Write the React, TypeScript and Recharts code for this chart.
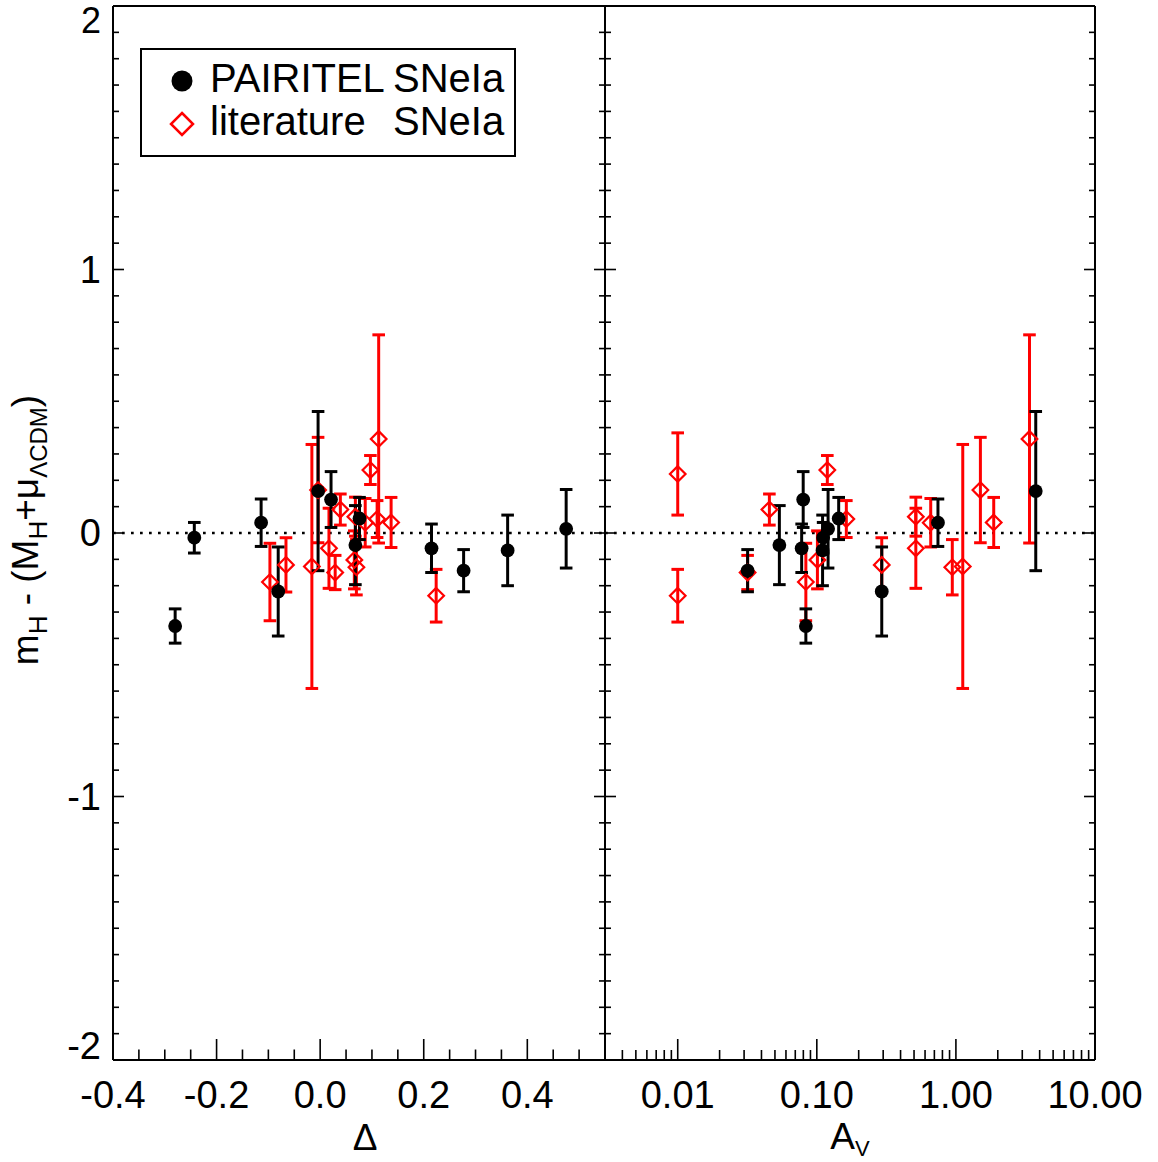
import React from 'react';
import { ScatterChart, Scatter, XAxis, YAxis, ErrorBar, ReferenceLine, Legend } from 'recharts';

// ---------------- data ----------------
// PAIRITEL SNe Ia (black filled circles)
const pairitelDelta = [-0.280, -0.243, -0.114, -0.081, -0.004, 0.021, 0.068, 0.076, 0.215, 0.277, 0.362, 0.475];
const pairitelAv = [0.0834, 0.111, 0.743, 0.293, 3.75, 0.0798, 0.0538, 0.1436, 0.0778, 0.0318, 0.110, 0.1205];
const pairitelResid = [-0.353, -0.018, 0.039, -0.222, 0.159, 0.127, -0.046, 0.055, -0.058, -0.143, -0.066, 0.016];
const pairitelErr = [0.065, 0.058, 0.090, 0.169, 0.302, 0.106, 0.150, 0.080, 0.092, 0.080, 0.134, 0.149];

// literature SNe Ia (red open diamonds); null = no Δ point shown
const litDelta: (number | null)[] = [null, 0.224, 0.029, 0.039, -0.097, 0.066, 0.097, 0.110, -0.066, 0.017, 0.068, 0.087, 0.070, -0.016, -0.004, 0.137, 0.113];
const litAv = [0.0100, 0.0100, 0.0318, 0.0456, 0.0834, 0.101, 0.119, 0.163, 0.293, 0.515, 0.515, 0.659, 0.942, 1.12, 1.50, 1.87, 3.38];
const litResid = [0.224, -0.238, -0.150, 0.089, -0.186, -0.102, 0.239, 0.053, -0.121, -0.058, 0.062, 0.039, -0.130, -0.127, 0.163, 0.040, 0.357];
const litErr = [0.156, 0.100, 0.065, 0.059, 0.147, 0.110, 0.055, 0.070, 0.103, 0.152, 0.074, 0.092, 0.105, 0.463, 0.200, 0.095, 0.395];

// axes
const deltaDomain = [-0.4, 0.55];
const deltaMajor = [-0.4, -0.2, 0.0, 0.2, 0.4];
const deltaLabels = ['-0.4', '-0.2', '0.0', '0.2', '0.4'];
const avDomain = [0.003, 10];
const avMajor = [0.01, 0.1, 1, 10];
const avLabels = ['0.01', '0.10', '1.00', '10.00'];
const residDomain = [-2, 2];
const residMajor = [-2, -1, 0, 1, 2];
const residLabels = ['-2', '-1', '0', '1', '2'];

// minor ticks
const deltaTicks: number[] = [];
for (let k = -8; k <= 11; k++) deltaTicks.push(Math.round(k * 5) / 100);
const residTicks: number[] = [];
for (let k = -20; k <= 20; k++) residTicks.push(k / 10);
const avTicks: number[] = [];
[0.001, 0.01, 0.1, 1].forEach((dec) => {
  for (let m = 1; m <= 9; m++) {
    const v = parseFloat((m * dec).toPrecision(6));
    if (v >= 0.003 - 1e-12 && v <= 10 + 1e-9) avTicks.push(v);
  }
});
avTicks.push(10);

// ---------------- helpers ----------------
const FONT = 'Liberation Sans, Arial, Helvetica, sans-serif';
const RED = '#f00';

const majorIndex = (v: number, majors: number[]) =>
  majors.findIndex((m) => Math.abs(m - v) <= 1e-6 * Math.max(Math.abs(m), 1e-3));

type Side = 'bottom' | 'top' | 'left' | 'right';

const makeTick = (side: Side, majors: number[], labels: string[] | null, majorLen: number, minorLen: number) =>
  (props: any) => {
    const { x, y, payload } = props;
    const v = Number(payload?.value);
    const idx = majorIndex(v, majors);
    const len = idx >= 0 ? majorLen : minorLen;
    let x2 = x, y2 = y;
    if (side === 'bottom') y2 = y - len;
    if (side === 'top') y2 = y + len;
    if (side === 'left') x2 = x + len;
    if (side === 'right') x2 = x - len;
    let label: React.ReactNode = null;
    if (labels && idx >= 0) {
      if (side === 'bottom') {
        label = (
          <text x={x} y={y + 48} textAnchor="middle" fontFamily={FONT} fontSize={38} fill="#000" stroke="none">
            {labels[idx]}
          </text>
        );
      } else if (side === 'left') {
        let by = y + 13;
        let fs = 38;
        if (idx === majors.length - 1) {
          by = y + 27;
          fs = 36;
        }
        if (idx === 0) by = y - 1;
        label = (
          <text x={x - 12} y={by} textAnchor="end" fontFamily={FONT} fontSize={fs} fill="#000" stroke="none">
            {labels[idx]}
          </text>
        );
      }
    }
    return (
      <g>
        <line x1={x} y1={y} x2={x2} y2={y2} stroke="#000" strokeWidth={1.6} />
        {label}
      </g>
    );
  };

const Dot = (p: any) => <circle cx={p.cx} cy={p.cy} r={6.9} fill="#000" />;
const Diamond = (p: any) => {
  const s = 7.8;
  return (
    <polygon
      points={`${p.cx},${p.cy - s} ${p.cx + s},${p.cy} ${p.cx},${p.cy + s} ${p.cx - s},${p.cy}`}
      fill="none"
      stroke={RED}
      strokeWidth={2.2}
    />
  );
};

const LegendBox = () => (
  <svg width={376} height={110} style={{ display: 'block' }}>
    <rect x={1} y={1} width={374} height={107} fill="#fff" stroke="#000" strokeWidth={2} />
    <circle cx={42} cy={33} r={10.5} fill="#000" />
    <text x={70} y={44} fontFamily={FONT} fontSize={40} fill="#000">PAIRITEL</text>
    <text x={253} y={44} fontFamily={FONT} fontSize={40} fill="#000">SNeIa</text>
    <polygon points="42,65 53,76 42,87 31,76" fill="none" stroke={RED} strokeWidth={2.5} />
    <text x={70} y={87} fontFamily={FONT} fontSize={40} fill="#000">literature</text>
    <text x={253} y={87} fontFamily={FONT} fontSize={40} fill="#000">SNeIa</text>
  </svg>
);

const axisLine = { stroke: '#000', strokeWidth: 2 };

const pairitelLeft = pairitelDelta.map((d, i) => ({ x: d, y: pairitelResid[i], err: pairitelErr[i] }));
const litLeft = litDelta
  .map((d, i) => ({ x: d, y: litResid[i], err: litErr[i] }))
  .filter((p) => p.x !== null);
const pairitelRight = pairitelAv.map((a, i) => ({ x: a, y: pairitelResid[i], err: pairitelErr[i] }));
const litRight = litAv.map((a, i) => ({ x: a, y: litResid[i], err: litErr[i] }));

const W = 1158;
const H = 1162;
const TOP = 6;
const BOTTOM = 1060;
const LEFT = 113;
const MID = 605;
const RIGHT = 1095;

const YTitle = (p: any) => {
  const vb = p.viewBox || { x: 112, y: 6, width: 1, height: 1054 };
  const cx = vb.x + vb.width - 75;
  const cy = vb.y + vb.height / 2 - 3;
  return (
    <text
      x={cx}
      y={cy}
      transform={`rotate(-90, ${cx}, ${cy})`}
      textAnchor="middle"
      fontFamily={FONT}
      fontSize={37}
      fill="#000"
    >
      m<tspan fontSize={26} dy={9}>H</tspan>
      <tspan dy={-9}> - (M</tspan>
      <tspan fontSize={26} dy={9}>H</tspan>
      <tspan dy={-9}>+μ</tspan>
      <tspan fontSize={24} dy={9}>ΛCDM</tspan>
      <tspan dy={-9}>)</tspan>
    </text>
  );
};

const DeltaTitle = (p: any) => {
  const vb = p.viewBox || { x: 113, y: 1060, width: 492 };
  return (
    <text x={vb.x + vb.width / 2 + 6} y={vb.y + 90} textAnchor="middle" fontFamily={FONT} fontSize={37} fill="#000">
      Δ
    </text>
  );
};

const AvTitle = (p: any) => {
  const vb = p.viewBox || { x: 605, y: 1060, width: 490 };
  return (
    <text x={vb.x + vb.width / 2} y={vb.y + 89} textAnchor="middle" fontFamily={FONT} fontSize={37} fill="#000">
      A<tspan fontSize={22} dy={7}>V</tspan>
    </text>
  );
};

const commonX = {
  type: 'number' as const,
  allowDataOverflow: true,
  interval: 0 as const,
  height: 1,
  tickSize: 0,
  tickMargin: 0,
  tickLine: false,
  axisLine,
};
const commonY = {
  type: 'number' as const,
  allowDataOverflow: true,
  interval: 0 as const,
  width: 1,
  tickSize: 0,
  tickMargin: 0,
  tickLine: false,
  axisLine,
  domain: residDomain,
  ticks: residTicks,
};

export default function App() {
  return (
    <div style={{ position: 'absolute', left: 0, top: 0, width: W, height: H, background: '#fff' }}>
      {/* Left panel: vs Δ */}
      <div style={{ position: 'absolute', left: 0, top: 0 }}>
        <ScatterChart
          width={W}
          height={H}
          margin={{ top: TOP - 1, right: W - MID - 1, bottom: H - BOTTOM - 1, left: LEFT - 1 }}
        >
          <XAxis
            {...commonX}
            xAxisId="b"
            dataKey="x"
            orientation="bottom"
            domain={deltaDomain}
            ticks={deltaTicks}
            tick={makeTick('bottom', deltaMajor, deltaLabels, 21, 10.5)}
            label={DeltaTitle}
          />
          <XAxis
            {...commonX}
            xAxisId="t"
            orientation="top"
            domain={deltaDomain}
            ticks={deltaTicks}
            tick={makeTick('top', deltaMajor, null, 21, 10.5)}
          />
          <YAxis
            {...commonY}
            yAxisId="l"
            dataKey="y"
            orientation="left"
            tick={makeTick('left', residMajor, residLabels, 11, 6)}
            label={YTitle}
          />
          <YAxis
            {...commonY}
            yAxisId="r"
            orientation="right"
            tick={makeTick('right', residMajor, null, 11, 6)}
          />
          <ReferenceLine
            xAxisId="b"
            yAxisId="l"
            y={0}
            stroke="#000"
            strokeWidth={2.7}
            strokeDasharray="2.7 6.3"
          />
          <Scatter
            name="literature   SNeIa"
            data={litLeft}
            xAxisId="b"
            yAxisId="l"
            shape={Diamond}
            isAnimationActive={false}
          >
            <ErrorBar dataKey="err" direction="y" width={6.3} strokeWidth={3} stroke={RED} isAnimationActive={false} />
          </Scatter>
          <Scatter
            name="PAIRITEL SNeIa"
            data={pairitelLeft}
            xAxisId="b"
            yAxisId="l"
            shape={Dot}
            isAnimationActive={false}
          >
            <ErrorBar dataKey="err" direction="y" width={6.3} strokeWidth={3} stroke="#000" isAnimationActive={false} />
          </Scatter>
          <Legend
            layout="vertical"
            align="center"
            verticalAlign="middle"
            content={LegendBox}
            wrapperStyle={{ position: 'absolute', left: 140, top: 48, width: 376, height: 110 }}
          />
        </ScatterChart>
      </div>

      {/* Right panel: vs A_V */}
      <div style={{ position: 'absolute', left: 0, top: 0 }}>
        <ScatterChart
          width={W}
          height={H}
          margin={{ top: TOP - 1, right: W - RIGHT - 1, bottom: H - BOTTOM - 1, left: MID - 1 }}
        >
          <XAxis
            {...commonX}
            xAxisId="b"
            dataKey="x"
            scale="log"
            orientation="bottom"
            domain={avDomain}
            ticks={avTicks}
            tick={makeTick('bottom', avMajor, avLabels, 21, 10)}
            label={AvTitle}
          />
          <XAxis
            {...commonX}
            xAxisId="t"
            scale="log"
            orientation="top"
            domain={avDomain}
            ticks={avTicks}
            tick={makeTick('top', avMajor, null, 21, 10)}
          />
          <YAxis
            {...commonY}
            yAxisId="l"
            dataKey="y"
            orientation="left"
            tick={makeTick('left', residMajor, null, 11, 6)}
          />
          <YAxis
            {...commonY}
            yAxisId="r"
            orientation="right"
            tick={makeTick('right', residMajor, null, 11, 6)}
          />
          <ReferenceLine
            xAxisId="b"
            yAxisId="l"
            y={0}
            stroke="#000"
            strokeWidth={2.7}
            strokeDasharray="2.7 6.3"
          />
          <Scatter
            name="literature   SNeIa"
            data={litRight}
            xAxisId="b"
            yAxisId="l"
            shape={Diamond}
            isAnimationActive={false}
          >
            <ErrorBar dataKey="err" direction="y" width={6.3} strokeWidth={3} stroke={RED} isAnimationActive={false} />
          </Scatter>
          <Scatter
            name="PAIRITEL SNeIa"
            data={pairitelRight}
            xAxisId="b"
            yAxisId="l"
            shape={Dot}
            isAnimationActive={false}
          >
            <ErrorBar dataKey="err" direction="y" width={6.3} strokeWidth={3} stroke="#000" isAnimationActive={false} />
          </Scatter>
        </ScatterChart>
      </div>
    </div>
  );
}
